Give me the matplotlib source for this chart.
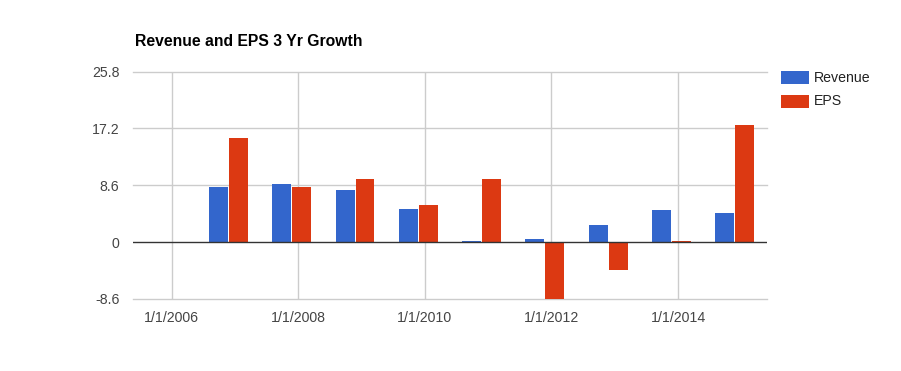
import matplotlib
matplotlib.use("Agg")
import matplotlib.pyplot as plt
import matplotlib.dates as mdates
from matplotlib.patches import Rectangle
import numpy as np
from datetime import datetime, timedelta

plt.rcParams['font.family'] = ['Liberation Sans', 'DejaVu Sans']

# ---- data ----
dates = ["2005-11-24", "2006-11-24", "2007-11-24", "2008-11-24", "2009-11-24",
         "2010-11-24", "2011-11-24", "2012-11-24", "2013-11-24", "2014-11-24"]
revenue = [np.nan, 8.3, 8.75, 7.85, 4.98, 0.2, 0.5, 2.55, 4.8, 4.4]
eps = [np.nan, 15.7, 8.3, 9.5, 5.58, 9.5, -12.0, -4.2, 0.2, 17.7]
yticks = [-8.6, 0, 8.6, 17.2, 25.8]
ytick_labels = ["-8.6", "0", "8.6", "17.2", "25.8"]
xtick_dates = ["2006-01-01", "2008-01-01", "2010-01-01", "2012-01-01", "2014-01-01"]
xtick_labels = ["1/1/2006", "1/1/2008", "1/1/2010", "1/1/2012", "1/1/2014"]
series_names = ["Revenue", "EPS"]
title = "Revenue and EPS 3 Yr Growth"

BLUE = "#3366CC"
RED = "#DC3912"

W, H = 901, 371
fig = plt.figure(figsize=(W / 100, H / 100), dpi=100)
ax = fig.add_axes([133.3 / W, 1 - 299 / H, (766.7 - 133.3) / W, (299 - 71.5) / H])

x = mdates.date2num([datetime.strptime(d, "%Y-%m-%d") for d in dates])
bw = 109.0
off = 57.5
ax.bar(x - off, revenue, width=bw, color=BLUE, linewidth=0, zorder=3)
ax.bar(x + off, eps, width=bw, color=RED, linewidth=0, zorder=3)

xt = mdates.date2num([datetime.strptime(d, "%Y-%m-%d") for d in xtick_dates])
ax.set_xticks(xt)
ax.set_xticklabels(xtick_labels)
ax.set_yticks(yticks)
ax.set_yticklabels(ytick_labels)
ax.set_ylim(-8.6, 25.8)
x0 = mdates.date2num(datetime(2006, 1, 1))
ax.set_xlim(x0 - 0.607 * 365.25, x0 + 9.4 * 365.25)

for s in ax.spines.values():
    s.set_visible(False)
ax.tick_params(length=0, labelsize=10.2, colors="#444444")
ax.tick_params(axis='x', pad=9)
ax.tick_params(axis='y', pad=10)
for v in yticks:
    if v == 0:
        continue
    ax.axhline(v, color="#CCCCCC", linewidth=1, zorder=1, clip_on=False)
for v in xt:
    ax.axvline(v, color="#CCCCCC", linewidth=1, zorder=1)
ax.axhline(0, color="#333333", linewidth=1, zorder=4)

fig.text(135 / W, 1 - 41 / H, title, fontsize=11.3, fontweight="bold",
         color="#000000", va="center", ha="left")

# legend
for i, (name, col) in enumerate(zip(series_names, [BLUE, RED])):
    yc = 77.5 + i * 23.5
    fig.patches.append(Rectangle((781 / W, 1 - (yc + 6.5) / H), 28 / W, 13 / H,
                                 transform=fig.transFigure, facecolor=col,
                                 edgecolor="none"))
    fig.text(814 / W, 1 - yc / H, name, fontsize=10.2, color="#222222",
             va="center", ha="left")

fig.savefig("out.png", dpi=100)
